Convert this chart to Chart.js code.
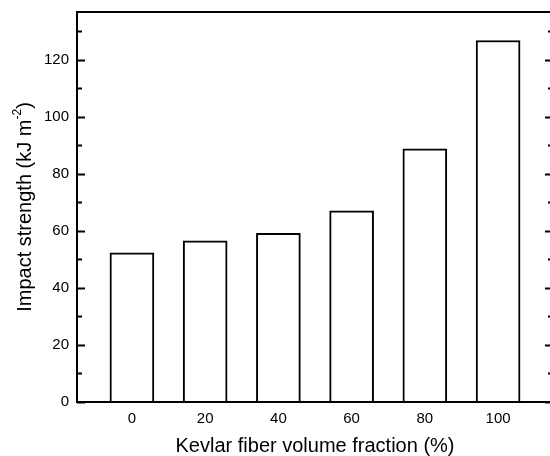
<!DOCTYPE html>
<html lang="en">
<head>
<title>Impact strength vs Kevlar fiber volume fraction</title>
<meta charset="utf-8"/>
<script src="https://cdn.jsdelivr.net/npm/chart.js"></script>
<style>
html, body {
  margin: 0;
  padding: 0;
  background: #fff;
  overflow: hidden;
}
#wrap {
  width: 560px;
  height: 456px;
}
</style>
</head>
<body>
<div id="wrap"><canvas id="chart" width="560" height="456"></canvas></div>
<script>
"use strict";
// data
const fractions = [0, 20, 40, 60, 80, 100];
const impactStrength = [52.3, 56.5, 59.2, 67.1, 88.8, 126.8];
const yTicks = [0, 10, 20, 30, 40, 50, 60, 70, 80, 90, 100, 110, 120, 130];
const xTitle = "Kevlar fiber volume fraction (%)";
const yTitle = ["Impact strength (kJ m", "-2", ")"];

const FONT = "'Liberation Sans', Arial, sans-serif";

// frame, inward ticks (both sides) and y title with superscript
const framePlugin = {
  id: "frame",
  afterDraw(chart){
    const ctx = chart.ctx;
    const a = chart.chartArea;
    const y = chart.scales.y;
    ctx.save();
    ctx.strokeStyle = "#000";
    ctx.lineWidth = 2;
    ctx.strokeRect(a.left, a.top, a.right - a.left, a.bottom - a.top);
    ctx.beginPath();
    for(const t of y.ticks){
      const py = Math.round(y.getPixelForValue(t.value)) + 0.5;
      const len = t.value % 20 === 0 ? 8 : 5;
      ctx.moveTo(a.left, py);
      ctx.lineTo(a.left + len, py);
      ctx.moveTo(a.right, py);
      ctx.lineTo(a.right - len, py);
    }
    ctx.stroke();

    // y axis title
    ctx.fillStyle = "#000";
    ctx.textBaseline = "middle";
    const big = "20px " + FONT;
    const small = "12px " + FONT;
    ctx.font = big;
    const w1 = ctx.measureText(yTitle[0]).width;
    const w3 = ctx.measureText(yTitle[2]).width;
    ctx.font = small;
    const w2 = ctx.measureText(yTitle[1]).width;
    const total = w1 + w2 + w3;
    ctx.translate(25, (a.top + a.bottom) / 2);
    ctx.rotate(-Math.PI / 2);
    let x = -total / 2;
    ctx.textAlign = "left";
    ctx.font = big;
    ctx.fillText(yTitle[0], x, 0);
    x += w1;
    ctx.font = small;
    ctx.fillText(yTitle[1], x, -7);
    x += w2;
    ctx.font = big;
    ctx.fillText(yTitle[2], x, 0);
    ctx.restore();
  }
};

new Chart(document.getElementById("chart"), {
  type: "bar",
  data: {
    datasets: [{
      data: fractions.map((f, i) => ({x: f, y: impactStrength[i]})),
      backgroundColor: "#fff",
      borderColor: "#000",
      borderWidth: 2,
      barThickness: 44
    }]
  },
  options: {
    responsive: false,
    animation: false,
    layout: {padding: {top: 12, right: 7, left: 0, bottom: 0}},
    plugins: {
      legend: {display: false},
      tooltip: {enabled: false}
    },
    scales: {
      x: {
        type: "linear",
        min: -15,
        max: 115,
        offset: false,
        grid: {display: false, drawTicks: false, offset: false},
        border: {display: false},
        afterBuildTicks: (s) => { s.ticks = fractions.map(v => ({value: v})); },
        afterFit: (s) => { s.height = 54; s.paddingLeft = 0; s.paddingRight = 0; },
        ticks: {
          color: "#000",
          padding: 8,
          maxRotation: 0,
          font: {family: FONT, size: 15}
        },
        title: {
          display: true,
          text: xTitle,
          color: "#000",
          padding: {top: 0, bottom: -2},
          font: {family: FONT, size: 20}
        }
      },
      y: {
        min: 0,
        max: 136.8,
        grid: {display: false, drawTicks: false},
        border: {display: false},
        afterBuildTicks: (s) => { s.ticks = yTicks.map(v => ({value: v})); },
        afterFit: (s) => { s.width = 77; s.paddingTop = 0; s.paddingBottom = 0; },
        ticks: {
          color: "#000",
          padding: 8,
          font: {family: FONT, size: 15},
          callback: (v) => (v % 20 === 0 ? String(v) : "")
        }
      }
    }
  },
  plugins: [framePlugin]
});
</script>
</body>
</html>
